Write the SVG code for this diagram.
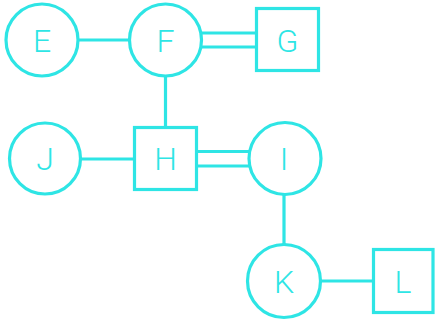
<svg xmlns="http://www.w3.org/2000/svg" width="435" height="320" viewBox="0 0 435 320">
<style>
.s{fill:#fff;stroke:#2ee5e5;stroke-width:3.2}
.c{fill:none;stroke:#2ee5e5;stroke-width:3.2}
.t{fill:#2ee5e5;font-family:Roboto,"Liberation Sans",sans-serif;font-weight:300;font-size:32px;text-anchor:middle}
</style>
<rect width="435" height="320" fill="#fff"/>
<g id="connectors">
<line class="c" x1="78" y1="40" x2="130" y2="40"/>
<line class="c" x1="200" y1="33" x2="257" y2="33"/>
<line class="c" x1="200" y1="47" x2="257" y2="47"/>
<line class="c" x1="165.5" y1="76" x2="165.5" y2="128"/>
<line class="c" x1="81" y1="159" x2="135" y2="159"/>
<line class="c" x1="196" y1="151.5" x2="250" y2="151.5"/>
<line class="c" x1="196" y1="166" x2="250" y2="166"/>
<line class="c" x1="284" y1="194" x2="284" y2="245"/>
<line class="c" x1="320" y1="281" x2="374" y2="281"/>
</g>
<g id="E"><circle class="s" cx="42" cy="40" r="36"/><text class="t" x="42" y="51.5">E</text></g>
<g id="F"><circle class="s" cx="165.5" cy="40" r="36"/><text class="t" x="165.5" y="51.5">F</text></g>
<g id="G"><rect class="s" x="256.5" y="8.5" width="62" height="62"/><text class="t" x="287.5" y="51.5">G</text></g>
<g id="J"><circle class="s" cx="45" cy="158.5" r="35.5"/><text class="t" x="45" y="170">J</text></g>
<g id="H"><rect class="s" x="134.5" y="127.5" width="62" height="62"/><text class="t" x="165.5" y="170">H</text></g>
<g id="I"><circle class="s" cx="285" cy="158.5" r="36"/><text class="t" x="284" y="170">I</text></g>
<g id="K"><circle class="s" cx="284" cy="281" r="36.5"/><text class="t" x="284" y="292.5">K</text></g>
<g id="L"><rect class="s" x="373.5" y="249.5" width="59.5" height="63"/><text class="t" x="403" y="292.5">L</text></g>
</svg>
